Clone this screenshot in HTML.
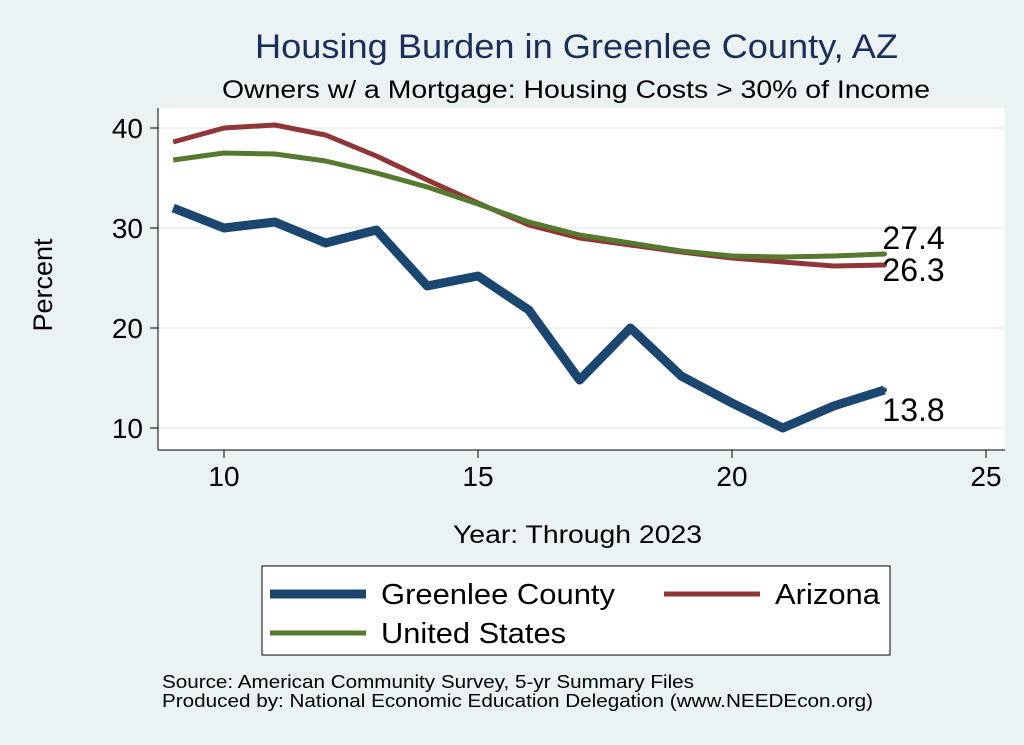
<!DOCTYPE html>
<html><head><meta charset="utf-8"><style>
body{margin:0;background:#eaf2f3;}
svg{display:block;font-family:"Liberation Sans",sans-serif;}
</style></head><body>
<svg width="1024" height="745" id="c">
<rect width="1024" height="745" fill="#eaf2f3"/>
<rect x="158" y="108" width="847" height="342" fill="#fff"/>
<text x="255" y="58" font-size="34" textLength="643" lengthAdjust="spacingAndGlyphs" fill="#1a2e5a">Housing Burden in Greenlee County, AZ</text>
<text x="222" y="98" font-size="25" textLength="708" lengthAdjust="spacingAndGlyphs" fill="#000">Owners w/ a Mortgage: Housing Costs &gt; 30% of Income</text>
<g id="grid"></g><g id="axes"></g><g id="series"></g>
<text x="52" y="285" text-anchor="middle" font-size="27" transform="rotate(-90 52 285)">Percent</text>
<text x="453" y="543" font-size="25" textLength="249" lengthAdjust="spacingAndGlyphs">Year: Through 2023</text>
<rect x="262" y="566" width="628" height="89" fill="#fff" stroke="#000" stroke-width="1"/>
<g><line x1="270" y1="594" x2="366" y2="594" stroke="#1a4670" stroke-width="9"/><text x="381" y="604" font-size="29" textLength="234" lengthAdjust="spacingAndGlyphs">Greenlee County</text></g>
<g><line x1="664" y1="594" x2="760" y2="594" stroke="#903638" stroke-width="5"/><text x="775" y="604" font-size="29" textLength="105" lengthAdjust="spacingAndGlyphs">Arizona</text></g>
<g><line x1="270" y1="633" x2="366" y2="633" stroke="#55792f" stroke-width="5"/><text x="381" y="643" font-size="29" textLength="185" lengthAdjust="spacingAndGlyphs">United States</text></g>
<text x="162" y="688" font-size="18" textLength="532" lengthAdjust="spacingAndGlyphs">Source: American Community Survey, 5-yr Summary Files</text>
<text x="162" y="707" font-size="18" textLength="711" lengthAdjust="spacingAndGlyphs">Produced by: National Economic Education Delegation (www.NEEDEcon.org)</text>
</svg>
<script>
const years=[9,10,11,12,13,14,15,16,17,18,19,20,21,22,23];
const greenlee=[32,30,30.6,28.5,29.8,24.2,25.2,21.8,14.8,20,15.2,12.5,10,12.2,13.8];
const arizona=[38.6,40,40.3,39.3,37.2,34.8,32.5,30.3,29,28.3,27.6,27,26.6,26.2,26.3];
const us=[36.8,37.5,37.4,36.7,35.5,34.1,32.4,30.6,29.3,28.5,27.7,27.2,27.1,27.2,27.4];
const xTicks=[10,15,20,25];
const yTicks=[10,20,30,40];
const NS="http://www.w3.org/2000/svg";
const xs=v=>224+(v-10)*50.8;
const ys=v=>428-(v-10)*10;
function mk(t,a,p){const e=document.createElementNS(NS,t);for(const k in a)e.setAttribute(k,a[k]);p.appendChild(e);return e;}
const grid=document.getElementById('grid'),axes=document.getElementById('axes'),ser=document.getElementById('series');
mk('line',{x1:158,y1:450,x2:1005,y2:450,stroke:'#000','stroke-width':1},axes);
mk('line',{x1:158,y1:108,x2:158,y2:450,stroke:'#000','stroke-width':1},axes);
yTicks.forEach(v=>{
 const g=mk('line',{x1:158,y1:ys(v),x2:1005,y2:ys(v),stroke:'#e6eef0','stroke-width':1.5},grid);
 
 mk('line',{x1:150,y1:ys(v),x2:158,y2:ys(v),stroke:'#000'},axes);
 const t=mk('text',{x:143,y:ys(v)+10,'text-anchor':'end','font-size':28},axes);t.textContent=v;
 
});
xTicks.forEach(v=>{
 mk('line',{x1:xs(v),y1:450,x2:xs(v),y2:458,stroke:'#000'},axes);
 const t=mk('text',{x:xs(v),y:486,'text-anchor':'middle','font-size':28},axes);t.textContent=v;
 
});
function line(d,c,w,name,dy){
 const p=mk('polyline',{points:d.map((v,i)=>xs(years[i])+','+ys(v)).join(' '),fill:'none',stroke:c,'stroke-width':w,'stroke-linejoin':'round'},ser);
 
 const l=d[d.length-1];
 mk('circle',{cx:xs(years[years.length-1]),cy:ys(l),r:2.5,fill:c},ser);
 const t=mk('text',{x:xs(years[years.length-1])-2,y:ys(l)+dy,'font-size':32},ser);t.textContent=l.toFixed(1);
 
}
line(greenlee,'#1a4670',9,'greenlee-line',31);
line(arizona,'#903638',5,'arizona-line',16);
line(us,'#55792f',5,'us-line',-5);
</script>
</body></html>
